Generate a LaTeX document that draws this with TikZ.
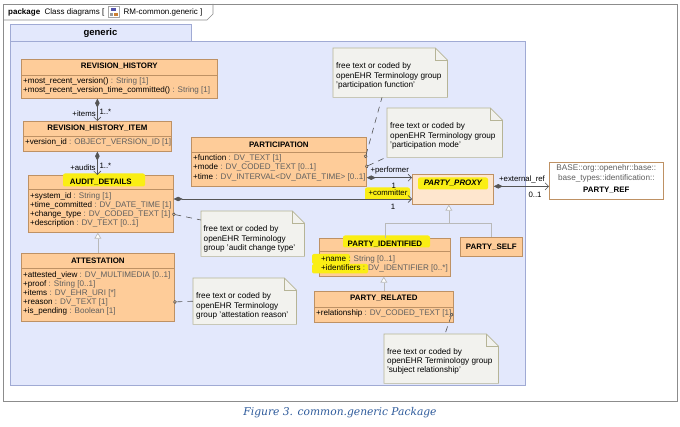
\documentclass[tikz,border=0pt]{standalone}
\usepackage{fontspec}
\setmainfont{Liberation Sans}
\newfontfamily\capfont{DejaVu Serif}
\usetikzlibrary{arrows.meta,calc}
\definecolor{clsfill}{RGB}{254,204,153}
\definecolor{clsline}{RGB}{190,145,100}
\definecolor{absfill}{RGB}{254,230,206}
\definecolor{pkgfill}{RGB}{227,232,252}
\definecolor{pkgline}{RGB}{160,170,212}
\definecolor{notefill}{RGB}{242,242,238}
\definecolor{noteline}{RGB}{182,180,150}
\definecolor{hl}{RGB}{250,238,20}
\definecolor{typegray}{RGB}{95,95,95}
\definecolor{capblue}{RGB}{45,90,155}
\definecolor{framegray}{RGB}{140,140,140}
\definecolor{linkgray}{RGB}{85,85,85}
\newcommand{\umlattr}[2]{#1 \textcolor{typegray}{: #2}}
\begin{document}
\begin{tikzpicture}[x=1pt,y=-1pt,
  cls/.style={draw=clsline,fill=clsfill,line width=0.7pt,inner sep=0,anchor=north west},
  sepline/.style={draw=clsline,line width=0.6pt},
  ctitle/.style={font=\bfseries\fontsize{7.9}{9}\selectfont,inner sep=0},
  attr/.style={font=\fontsize{8.1}{9}\selectfont,inner sep=0,anchor=west},
  lbl/.style={font=\fontsize{7.8}{9}\selectfont,inner sep=0},
  notebox/.style={inner sep=0,anchor=north west},
  notetext/.style={font=\fontsize{8.2}{9.3}\selectfont,inner sep=0,anchor=west,align=left},
  notedraw/.style={draw=noteline,fill=notefill,line width=0.7pt},
  assoc/.style={draw=linkgray,line width=0.6pt,{Diamond[fill=linkgray,length=9pt,width=4.5pt]}-{Straight Barb[length=3.5pt,width=7pt]}},
  gen/.style={draw=gray!55,line width=0.7pt},
  gentip/.style={gen,-{Triangle[open,fill=white,length=6pt,width=7pt]}},
  anchorline/.style={draw=linkgray,line width=0.6pt,dash pattern=on 6pt off 5pt,{Circle[open,fill=clsfill,length=3.5pt,width=3.5pt]}-}
]
\useasboundingbox (0,0) rectangle (680,427);
\fill[white] (0,0) rectangle (680,427);
% outer frame
\draw[framegray,line width=0.9pt] (3,4) rectangle (677,401);
\draw[framegray,line width=0.7pt] (3,20) -- (207,20) -- (213,14) -- (213,4);
\node[font=\fontsize{8}{9}\selectfont,inner sep=0,anchor=west] (hdr1) at (8,12) {\textbf{package}\ \ Class diagrams [};
\draw[gray!70,fill=white] ($(hdr1.east)+(4,-5.5)$) rectangle ($(hdr1.east)+(15,5.5)$);
\fill[blue!35!gray] ($(hdr1.east)+(7,-3.5)$) rectangle ($(hdr1.east)+(12,-0.5)$);
\fill[gray!80] ($(hdr1.east)+(5.5,1)$) rectangle ($(hdr1.east)+(9,4)$);
\fill[orange!60!gray] ($(hdr1.east)+(10,1)$) rectangle ($(hdr1.east)+(13.5,4)$);
\node[font=\fontsize{8}{9}\selectfont,inner sep=0,anchor=west] (hdr2) at ($(hdr1.east)+(19,0)$) {RM-common.generic ]};
% package
\draw[pkgline,fill=pkgfill,line width=0.8pt] (10,41) rectangle (525,385);
\draw[pkgline,fill=pkgfill,line width=0.8pt] (10,24) rectangle (191,41);
\node[font=\bfseries\fontsize{9.5}{10}\selectfont,inner sep=0] (pkgname) at (100.5,33) {generic};

% classes
\node[cls,minimum width=196pt,minimum height=39pt] (rh) at (21,59) {};
\node[cls,minimum width=148pt,minimum height=30pt] (rhi) at (23,121) {};
\node[cls,minimum width=145pt,minimum height=57pt] (ad) at (28,175) {};
\node[cls,minimum width=153pt,minimum height=68pt] (att) at (21,253) {};
\node[cls,minimum width=175pt,minimum height=49pt] (part) at (191,137) {};
\node[cls,fill=absfill,minimum width=81pt,minimum height=30pt] (pp) at (412,174) {};
\node[cls,fill=white,minimum width=114pt,minimum height=37pt] (pref) at (549,162) {};
\node[cls,minimum width=131pt,minimum height=38pt] (pi) at (319,238) {};
\node[cls,minimum width=62pt,minimum height=19pt] (ps) at (460,237) {};
\node[cls,minimum width=139pt,minimum height=31pt] (pr) at (314,291) {};

% separators
\draw[sepline] ($(rh.north west)+(0,16)$) -- ($(rh.north east)+(0,16)$);
\draw[sepline] ($(rhi.north west)+(0,15)$) -- ($(rhi.north east)+(0,15)$);
\draw[sepline] ($(ad.north west)+(0,14)$) -- ($(ad.north east)+(0,14)$);
\draw[sepline] ($(att.north west)+(0,15)$) -- ($(att.north east)+(0,15)$);
\draw[sepline] ($(part.north west)+(0,15)$) -- ($(part.north east)+(0,15)$);
\draw[sepline] ($(pi.north west)+(0,13)$) -- ($(pi.north east)+(0,13)$);
\draw[sepline] ($(pr.north west)+(0,16)$) -- ($(pr.north east)+(0,16)$);

% highlights
\fill[hl,rounded corners=2pt] (63,173.5) rectangle (145,186.5);
\fill[hl,rounded corners=2pt] (365,187.5) rectangle (410,200);
\fill[hl,rounded corners=2pt] (418,177.5) rectangle (488,189.5);
\fill[hl,rounded corners=2pt] (343,235.5) rectangle (430,247.5);
\fill[hl,rounded corners=2pt] (312,254) rectangle (350,264);
\fill[hl,rounded corners=2pt] (312,264) rectangle (368,273.5);

% titles
\node[ctitle] (rht) at ($(rh.north)+(0,7.5)$) {REVISION\_HISTORY};
\node[ctitle] (rhit) at ($(rhi.north)+(0,7.5)$) {REVISION\_HISTORY\_ITEM};
\node[ctitle] (adt) at ($(ad.north)+(0,7)$) {AUDIT\_DETAILS};
\node[ctitle] (attt) at ($(att.north)+(0,8)$) {ATTESTATION};
\node[ctitle] (partt) at ($(part.north)+(0,7.5)$) {PARTICIPATION};
\node[ctitle,font=\bfseries\itshape\fontsize{7.9}{9}\selectfont] (ppt) at ($(pp.north)+(0,9)$) {PARTY\_PROXY};
\node[ctitle] (pit) at ($(pi.north)+(0,6.5)$) {PARTY\_IDENTIFIED};
\node[ctitle] (pst) at (ps.center) {PARTY\_SELF};
\node[ctitle] (prt) at ($(pr.north)+(0,7.5)$) {PARTY\_RELATED};
\node[font=\fontsize{8.2}{10}\selectfont,inner sep=0,align=center,text=typegray] (preft) at ($(pref.north)+(0,11)$) {BASE::org::openehr::base::\\base\_types::identification::};
\node[ctitle] (preft2) at ($(pref.north)+(0,28)$) {PARTY\_REF};

% attributes
\node[attr] at ($(rh.north west)+(2,22)$) {\umlattr{+most\_recent\_version()}{String [1]}};
\node[attr] at ($(rh.north west)+(2,31)$) {\umlattr{+most\_recent\_version\_time\_committed()}{String [1]}};
\node[attr] at ($(rhi.north west)+(2,21)$) {\umlattr{+version\_id}{OBJECT\_VERSION\_ID [1]}};
\node[attr] at ($(ad.north west)+(2,21)$) {\umlattr{+system\_id}{String [1]}};
\node[attr] at ($(ad.north west)+(2,30)$) {\umlattr{+time\_committed}{DV\_DATE\_TIME [1]}};
\node[attr] at ($(ad.north west)+(2,39)$) {\umlattr{+change\_type}{DV\_CODED\_TEXT [1]}};
\node[attr] at ($(ad.north west)+(2,48)$) {\umlattr{+description}{DV\_TEXT [0..1]}};
\node[attr] at ($(att.north west)+(2,22)$) {\umlattr{+attested\_view}{DV\_MULTIMEDIA [0..1]}};
\node[attr] at ($(att.north west)+(2,31)$) {\umlattr{+proof}{String [0..1]}};
\node[attr] at ($(att.north west)+(2,40)$) {\umlattr{+items}{DV\_EHR\_URI [*]}};
\node[attr] at ($(att.north west)+(2,49)$) {\umlattr{+reason}{DV\_TEXT [1]}};
\node[attr] at ($(att.north west)+(2,58)$) {\umlattr{+is\_pending}{Boolean [1]}};
\node[attr] at ($(part.north west)+(2,21)$) {\umlattr{+function}{DV\_TEXT [1]}};
\node[attr] at ($(part.north west)+(2,30)$) {\umlattr{+mode}{DV\_CODED\_TEXT [0..1]}};
\node[attr] at ($(part.north west)+(2,40)$) {\umlattr{+time}{DV\_INTERVAL<DV\_DATE\_TIME> [0..1]}};
\node[attr] at ($(pi.north west)+(2,21)$) {\umlattr{+name}{String [0..1]}};
\node[attr] at ($(pi.north west)+(2,30)$) {\umlattr{+identifiers}{DV\_IDENTIFIER [0..*]}};
\node[attr] at ($(pr.north west)+(2,22)$) {\umlattr{+relationship}{DV\_CODED\_TEXT [1]}};

% notes
\node[notebox,minimum width=114pt,minimum height=49pt] (n1) at (333,48) {};
\node[notebox,minimum width=115pt,minimum height=49pt] (n2) at (387,108) {};
\node[notebox,minimum width=103pt,minimum height=45pt] (n3) at (201,211) {};
\node[notebox,minimum width=103pt,minimum height=46pt] (n4) at (193,278) {};
\node[notebox,minimum width=114pt,minimum height=49pt] (n5) at (384,334) {};
\foreach \n in {n1,n2,n3,n4,n5}{
  \draw[notedraw] (\n.north west) -- ($(\n.north east)+(-12,0)$) -- ($(\n.north east)+(0,12)$) -- (\n.south east) -- (\n.south west) -- cycle;
  \draw[notedraw,fill=none] ($(\n.north east)+(-12,0)$) -- ($(\n.north east)+(-12,12)$) -- ($(\n.north east)+(0,12)$);
}
\node[notetext] at ($(n1.north west)+(3,28)$) {free text or coded by\\openEHR Terminology group\\'participation function'};
\node[notetext] at ($(n2.north west)+(3,28)$) {free text or coded by\\openEHR Terminology group\\'participation mode'};
\node[notetext] at ($(n3.north west)+(2.5,28)$) {free text or coded by\\openEHR Terminology\\group 'audit change type'};
\node[notetext] at ($(n4.north west)+(3,28)$) {free text or coded by\\openEHR Terminology\\group 'attestation reason'};
\node[notetext] at ($(n5.north west)+(3,27.5)$) {free text or coded by\\openEHR Terminology group\\'subject relationship'};

% note anchors
\draw[anchorline] ($(part.north east)+(-1.5,21)$) -- ($(n1.south west)+(49,0)$);
\draw[anchorline] ($(part.north east)+(-1.5,30)$) -- ($(n2.south west)+(-1,0)$);
\draw[anchorline] ($(ad.north east)+(-1.5,39)$) -- ($(n3.north west)+(0,9)$);
\draw[anchorline] ($(att.north east)+(-1.5,49)$) -- (n4.west);
\draw[anchorline] ($(pr.north east)+(-1.5,22)$) -- ($(n5.north west)+(61,0)$);

% associations
\draw[assoc] (rh.south -| rhi.north) -- (rhi.north);
\node[lbl,anchor=east] at ($(rhi.north)+(-1.5,-7)$) {+items};
\node[lbl,anchor=west] at ($(rhi.north)+(2,-9)$) {1..*};
\draw[assoc] (rhi.south) -- (rhi.south |- ad.north);
\node[lbl,anchor=east] at ($(rhi.south |- ad.north)+(-1.5,-7)$) {+audits};
\node[lbl,anchor=west] at ($(rhi.south |- ad.north)+(2,-9)$) {1..*};
\coordinate (perfA) at ($(part.south east)+(0,-9)$);
\draw[assoc] (perfA) -- (perfA -| pp.west);
\node[lbl] at ($(perfA)+(23,-7)$) {+performer};
\node[lbl] at ($(perfA)+(27,8)$) {1};
\coordinate (commA) at ($(ad.north east)+(0,24)$);
\draw[assoc] (commA) -- (commA -| pp.west);
\node[lbl] at ($(commA -| pp.west)+(-24,-6)$) {+committer};
\node[lbl] at ($(commA -| pp.west)+(-19,8)$) {1};
\coordinate (extA) at ($(pp.east)+(0,-3)$);
\draw[assoc] (extA) -- (extA -| pref.west);
\node[lbl] at ($(extA -| pref.west)+(-27,-7)$) {+external\_ref};
\node[lbl] at ($(extA -| pref.west)+(-14,8)$) {0..1};

% generalisations
\draw[gentip] (att.north) -- (att.north |- ad.south);
\coordinate (gj) at ($(pp.south)+(-4,19)$);
\draw[gen] (pi.north) |- (gj) -| (ps.north);
\draw[gentip] (gj) -- (gj |- pp.south);
\draw[gentip] (pr.north) -- (pr.north |- pi.south);

% caption
\node[font=\capfont\itshape\fontsize{10.7}{12}\selectfont,text=capblue,inner sep=0] (cap) at (340,413) {Figure 3. common.generic Package};
\end{tikzpicture}
\end{document}
